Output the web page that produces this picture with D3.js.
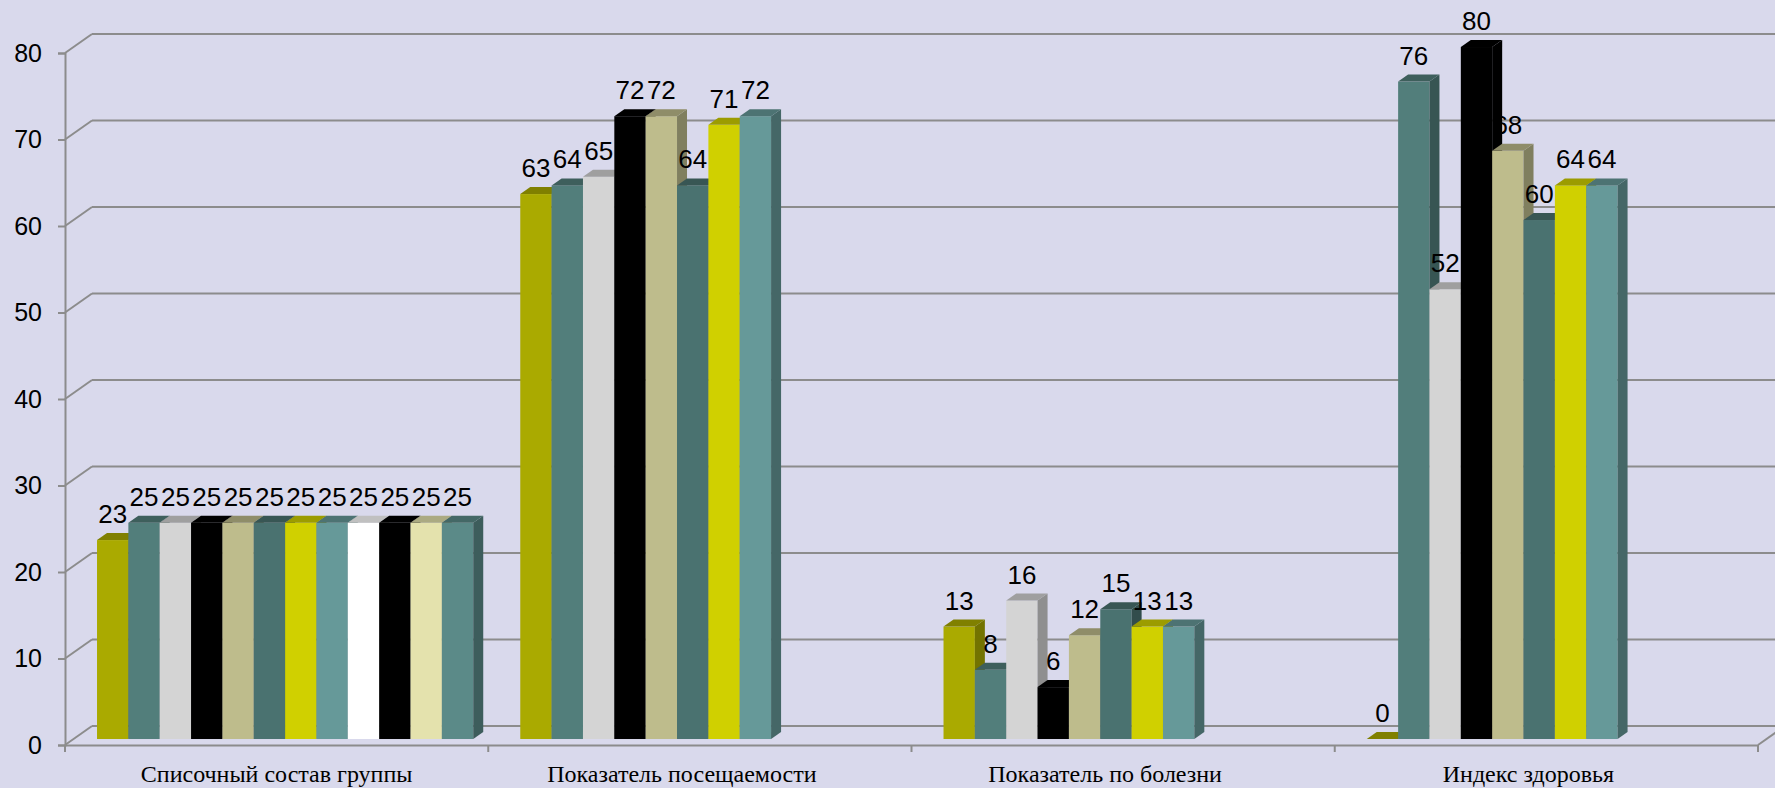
<!DOCTYPE html>
<html>
<head>
<meta charset="utf-8">
<script src="https://cdn.jsdelivr.net/npm/d3@7"></script>
<style>
  body { margin: 0; background: #d9d9ec; }
  svg { display: block; }
</style>
</head>
<body>
<div id="chart"></div>
<script>
// Categories and series (12 series, the last four only exist in the first category)
const categories = ["Списочный состав группы", "Показатель посещаемости", "Показатель по болезни", "Индекс здоровья"];
const series1 = [23, 63, 13, 0];
const series2 = [25, 64, 8, 76];
const series3 = [25, 65, 16, 52];
const series4 = [25, 72, 6, 80];
const series5 = [25, 72, 12, 68];
const series6 = [25, 64, 15, 60];
const series7 = [25, 71, 13, 64];
const series8 = [25, 72, 13, 64];
const series9 = [25, null, null, null];
const series10 = [25, null, null, null];
const series11 = [25, null, null, null];
const series12 = [25, null, null, null];
const yTicks = [0, 10, 20, 30, 40, 50, 60, 70, 80];

const allSeries = [series1, series2, series3, series4, series5, series6,
  series7, series8, series9, series10, series11, series12];
const seriesColors = ["#aaaa00", "#527e7b", "#d4d4d4", "#000000", "#bebc8c", "#4a7270",
  "#d0d000", "#669999", "#ffffff", "#000000", "#e4e2ad", "#5b8a88"];

const W = 1775, H = 788;
const plotLeft = 65, plotRight = 1758, plotBottom = 745, plotTop = 53;
const DX = 27, DY = -19;          // depth of the plot box
const t0 = 0.315, t1 = 0.685;     // bar depth inside the box

const svg = d3.select("#chart").append("svg")
  .attr("width", W).attr("height", H);

// Scales
const x = d3.scaleBand().domain(categories).range([plotLeft, plotRight]);
const xSub = d3.scaleBand().domain(d3.range(allSeries.length))
  .range([0, x.bandwidth()]).paddingInner(0).paddingOuter(0.75);
const y = d3.scaleLinear().domain([0, 80]).range([plotBottom, plotTop]);
const color = d3.scaleOrdinal().domain(d3.range(allSeries.length)).range(seriesColors);

const gridColor = "#8c8c8c";

// Back wall gridlines and left wall diagonals
const grid = svg.append("g");
yTicks.forEach(v => {
  grid.append("line")
    .attr("x1", plotLeft + DX).attr("x2", plotRight + DX)
    .attr("y1", y(v) + DY).attr("y2", y(v) + DY)
    .attr("stroke", gridColor).attr("stroke-width", 2);
  grid.append("line")
    .attr("x1", plotLeft).attr("x2", plotLeft + DX)
    .attr("y1", y(v)).attr("y2", y(v) + DY)
    .attr("stroke", gridColor).attr("stroke-width", 2);
});

// Floor right edge
grid.append("line")
  .attr("x1", plotRight).attr("y1", plotBottom)
  .attr("x2", plotRight + DX).attr("y2", plotBottom + DY)
  .attr("stroke", gridColor).attr("stroke-width", 2);

// Y axis
const yAxis = svg.append("g")
  .attr("transform", `translate(${plotLeft},0)`)
  .call(d3.axisLeft(y).tickValues(yTicks).tickSize(7).tickPadding(16));
yAxis.select(".domain").attr("stroke", gridColor).attr("stroke-width", 2);
yAxis.selectAll(".tick line").attr("stroke", gridColor).attr("stroke-width", 2);
yAxis.selectAll(".tick text")
  .attr("font-family", "'Liberation Sans', Arial, sans-serif")
  .attr("font-size", 25).attr("fill", "#000");

// X axis: labels at band centres, ticks at band boundaries
const xAxis = svg.append("g")
  .attr("transform", `translate(0,${plotBottom})`)
  .call(d3.axisBottom(x).tickSize(0).tickPadding(20));
xAxis.select(".domain").attr("stroke", gridColor).attr("stroke-width", 2);
xAxis.selectAll(".tick text")
  .attr("font-family", "'Liberation Serif', 'Times New Roman', serif")
  .attr("font-size", 24).attr("fill", "#000")
  .attr("dx", (d, i) => i === 0 ? 0 : -18);
const bounds = categories.map(c => x(c)).concat([plotRight]);
xAxis.selectAll(".bound").data(bounds).enter().append("line")
  .attr("x1", d => d).attr("x2", d => d)
  .attr("y1", 0).attr("y2", 7)
  .attr("stroke", gridColor).attr("stroke-width", 2);

// Bars
const bars = [];
categories.forEach((c, ci) => {
  allSeries.forEach((s, si) => {
    if (s[ci] != null) bars.push({ cat: c, si: si, value: s[ci] });
  });
});

const barW = xSub.bandwidth();
const bx0 = DX * t0, by0 = DY * t0;
const bdx = DX * (t1 - t0), bdy = DY * (t1 - t0);

const barG = svg.selectAll(".bar").data(bars).enter().append("g").attr("class", "bar");

barG.each(function (d) {
  const g = d3.select(this);
  const xl = x(d.cat) + xSub(d.si) + bx0;
  const xr = xl + barW;
  const yb = y(0) + by0;
  const yt = y(d.value) + by0;
  const base = d3.color(color(d.si));
  // front face
  g.append("rect")
    .attr("x", xl).attr("y", yt)
    .attr("width", barW).attr("height", yb - yt)
    .attr("fill", base);
  // right side face
  g.append("path")
    .attr("d", `M${xr},${yt}L${xr + bdx},${yt + bdy}L${xr + bdx},${yb + bdy}L${xr},${yb}Z`)
    .attr("fill", base.darker(1.1));
  // top face
  g.append("path")
    .attr("d", `M${xl},${yt}L${xl + bdx},${yt + bdy}L${xr + bdx},${yt + bdy}L${xr},${yt}Z`)
    .attr("fill", d.si === 3 || d.si === 9 ? "#000" : (d.si === 8 ? "#c0c0c0" : base.darker(0.8)));
  // value label
  g.append("text")
    .attr("x", xl + barW / 2)
    .attr("y", yt + bdy - 10)
    .attr("text-anchor", "middle")
    .attr("font-family", "'Liberation Sans', Arial, sans-serif")
    .attr("font-size", 26)
    .attr("fill", "#000")
    .text(d.value);
});
</script>
</body>
</html>
